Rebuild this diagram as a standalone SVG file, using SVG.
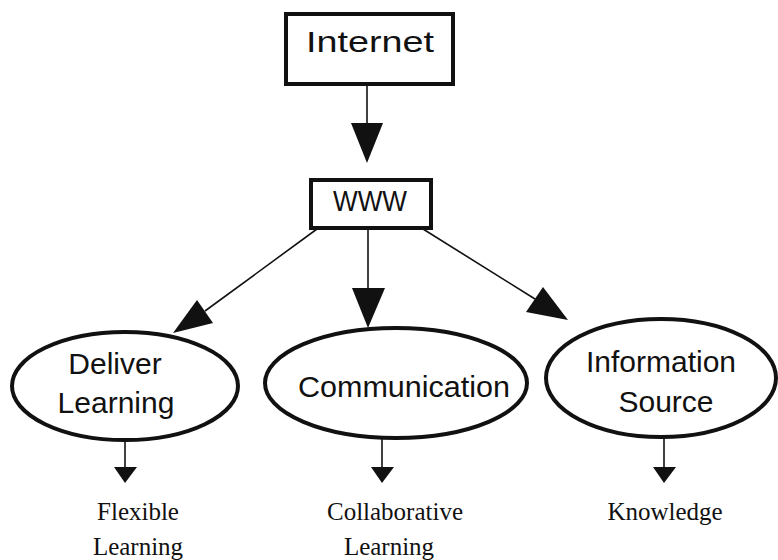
<svg xmlns="http://www.w3.org/2000/svg" width="778" height="560" viewBox="0 0 778 560">
<style>
.box{fill:#fff;stroke:#111;stroke-width:4}
.ell{fill:#fff;stroke:#111;stroke-width:4}
.lbl{font-family:"Liberation Sans",Arial,sans-serif;font-size:30px;fill:#111;text-anchor:middle}
.sub{font-family:"Liberation Serif","Times New Roman",serif;font-size:25px;fill:#111;text-anchor:middle}
.ln{stroke:#111;stroke-width:1.6;fill:none}
.hd{fill:#111;stroke:none}
</style>
<rect width="778" height="560" fill="#fff"/>
<g id="connectors">
<line class="ln" x1="367" y1="84" x2="367" y2="126"/>
<polygon class="hd" points="351,123 383,123 367,163"/>
<line class="ln" x1="317" y1="229" x2="205" y2="311"/>
<polygon class="hd" points="173,333 197,300 213,323"/>
<line class="ln" x1="368" y1="228" x2="368" y2="290"/>
<polygon class="hd" points="352,288 385,288 368,328"/>
<line class="ln" x1="423" y1="229" x2="535" y2="299"/>
<polygon class="hd" points="568,320 543,287 526,312"/>
<line class="ln" x1="125" y1="440" x2="125" y2="469"/>
<polygon class="hd" points="114,467 137,467 125,483"/>
<line class="ln" x1="382" y1="438" x2="382" y2="469"/>
<polygon class="hd" points="371,467 394,467 382,483"/>
<line class="ln" x1="664" y1="437" x2="664" y2="469"/>
<polygon class="hd" points="653,467 676,467 664,483"/>
</g>
<g id="internet">
<rect class="box" x="286" y="14" width="167" height="70"/>
<text class="lbl" x="370" y="52" font-size="33" textLength="128" lengthAdjust="spacingAndGlyphs">Internet</text>
</g>
<g id="www">
<rect class="box" x="311" y="180" width="120" height="48" stroke-width="3.5"/>
<text class="lbl" x="370" y="211" font-size="27" textLength="74" lengthAdjust="spacingAndGlyphs">WWW</text>
</g>
<g id="deliver">
<ellipse class="ell" cx="125" cy="386" rx="113" ry="54"/>
<text class="lbl" x="115" y="374">Deliver</text>
<text class="lbl" x="116" y="413">Learning</text>
</g>
<g id="communication">
<ellipse class="ell" cx="396" cy="383" rx="131" ry="55"/>
<text class="lbl" x="404" y="397" textLength="212" lengthAdjust="spacingAndGlyphs">Communication</text>
</g>
<g id="information">
<ellipse class="ell" cx="661" cy="378" rx="115" ry="59"/>
<text class="lbl" x="661" y="372">Information</text>
<text class="lbl" x="666" y="412">Source</text>
</g>
<g id="flexible">
<text class="sub" x="138" y="520">Flexible</text>
<text class="sub" x="138" y="555">Learning</text>
</g>
<g id="collaborative">
<text class="sub" x="395" y="520">Collaborative</text>
<text class="sub" x="389" y="555">Learning</text>
</g>
<g id="knowledge">
<text class="sub" x="665" y="520">Knowledge</text>
</g>
</svg>
